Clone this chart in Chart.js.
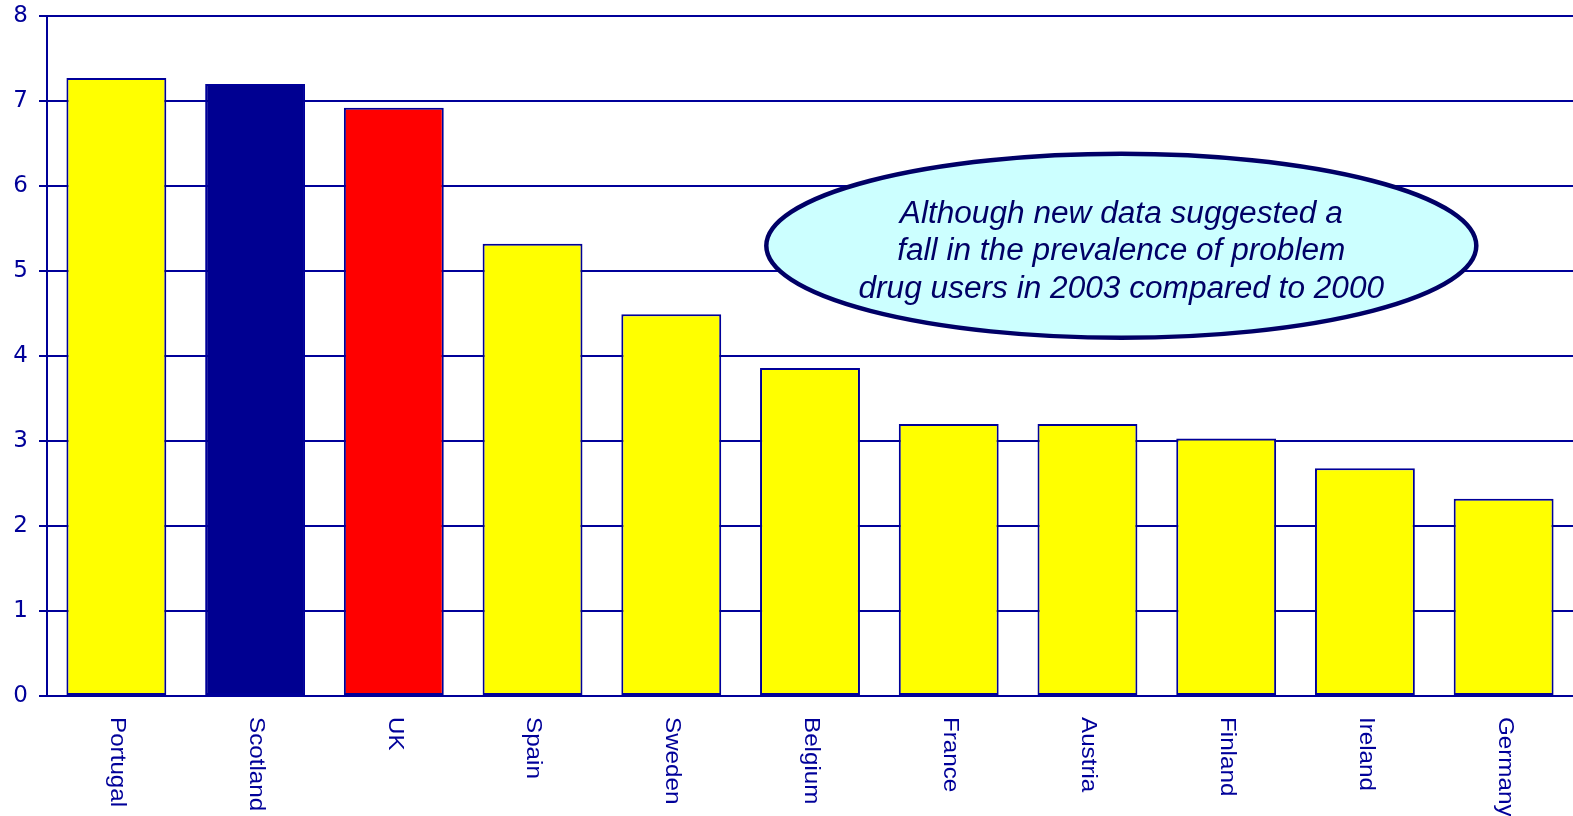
<!DOCTYPE html>
<html>
<head>
<meta charset="utf-8">
<script src="https://cdn.jsdelivr.net/npm/chart.js@4/dist/chart.umd.min.js"></script>
<style>
html,body{margin:0;padding:0;background:#fff;}
canvas{display:block;}
</style>
</head>
<body>
<canvas id="c" width="1573" height="816"></canvas>
<script>
const categories = ["Portugal","Scotland","UK","Spain","Sweden","Belgium","France","Austria","Finland","Ireland","Germany"];
const values = [7.27, 7.20, 6.92, 5.32, 4.49, 3.86, 3.20, 3.20, 3.03, 2.68, 2.32];
const barColors = ["#FFFF00","#000091","#FF0000","#FFFF00","#FFFF00","#FFFF00","#FFFF00","#FFFF00","#FFFF00","#FFFF00","#FFFF00"];
const yTicks = [0,1,2,3,4,5,6,7,8];
const noteLines = ["Although new data suggested a","fall in the prevalence of problem","drug users in 2003 compared to 2000"];

const NAVY = "#000099";

const xLabelPlugin = {
  id: "xLabels",
  afterDraw(chart) {
    const ctx = chart.ctx;
    const xs = chart.scales.x;
    const top = chart.chartArea.bottom + 21;
    ctx.save();
    ctx.fillStyle = NAVY;
    ctx.font = "22px 'Liberation Sans', Arial, sans-serif";
    ctx.textAlign = "left";
    ctx.textBaseline = "middle";
    categories.forEach((lab, i) => {
      const x = xs.getPixelForValue(i) + 1;
      ctx.save();
      ctx.translate(x, top);
      ctx.rotate(Math.PI / 2);
      ctx.scale(1.1, 1);
      ctx.fillText(lab, 0, 0);
      ctx.restore();
    });
    ctx.restore();
  }
};

const notePlugin = {
  id: "note",
  afterDraw(chart) {
    const ctx = chart.ctx;
    const ca = chart.chartArea;
    const cx = ca.left + (ca.right - ca.left) * 0.704;
    const cy = ca.top + (ca.bottom - ca.top) * 0.338;
    ctx.save();
    ctx.beginPath();
    ctx.ellipse(cx, cy, 355, 92, 0, 0, Math.PI * 2);
    ctx.fillStyle = "#CCFFFF";
    ctx.fill();
    ctx.lineWidth = 4.5;
    ctx.strokeStyle = "#000066";
    ctx.stroke();
    ctx.fillStyle = "#000066";
    ctx.font = "italic 31px 'Liberation Sans', Arial, sans-serif";
    ctx.textAlign = "center";
    ctx.textBaseline = "alphabetic";
    noteLines.forEach((t, i) => {
      ctx.save();
      ctx.translate(cx, cy - 23 + i * 37.5);
      ctx.scale(1.02, 1);
      ctx.fillText(t, 0, 0);
      ctx.restore();
    });
    ctx.restore();
  }
};

new Chart(document.getElementById("c"), {
  type: "bar",
  data: {
    labels: categories,
    datasets: [{
      data: values,
      backgroundColor: barColors,
      borderColor: NAVY,
      borderWidth: 2,
      borderSkipped: false,
      barPercentage: 0.72,
      categoryPercentage: 1.0
    }]
  },
  options: {
    responsive: false,
    animation: false,
    layout: { padding: { top: 16, right: 0, left: 0, bottom: 0 } },
    plugins: { legend: { display: false }, tooltip: { enabled: false }, title: { display: false } },
    scales: {
      x: {
        offset: true,
        grid: { display: false },
        border: { display: true, color: NAVY, width: 2 },
        ticks: { display: false },
        afterFit(scale) { scale.height = 120; scale.paddingLeft = 0; scale.paddingRight = 0; }
      },
      y: {
        min: 0,
        max: 8,
        afterBuildTicks(scale) { scale.ticks = yTicks.map(v => ({ value: v })); },
        grid: { color: NAVY, lineWidth: 2, tickLength: 8, drawOnChartArea: true },
        border: { display: true, color: NAVY, width: 2 },
        ticks: {
          color: NAVY,
          padding: 11,
          font: { family: "'DejaVu Sans', Verdana, sans-serif", size: 23 }
        },
        afterFit(scale) { scale.width = 47; scale.paddingTop = 0; scale.paddingBottom = 0; }
      }
    }
  },
  plugins: [xLabelPlugin, notePlugin]
});
</script>
</body>
</html>
